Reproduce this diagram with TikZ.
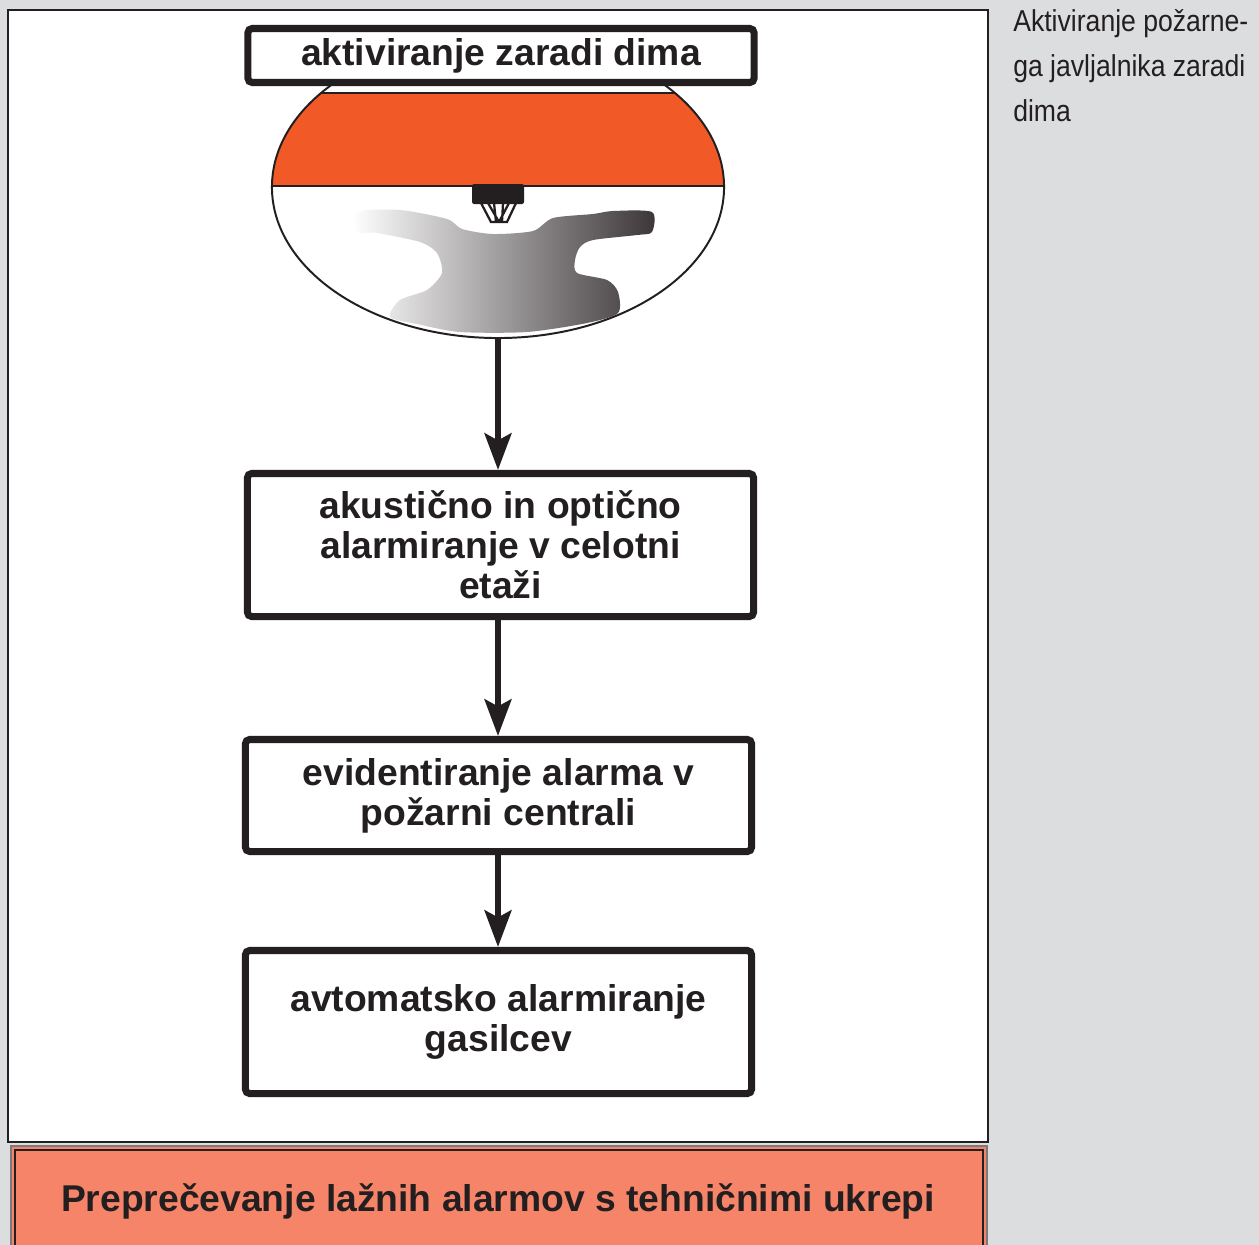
\documentclass[tikz,border=0pt]{standalone}
\usepackage{fontspec}
\setmainfont{Liberation Sans}
\newfontfamily\condfont[FakeStretch=0.88]{Liberation Sans}
\usetikzlibrary{arrows.meta,shapes.geometric}
\definecolor{ink}{HTML}{231F20}
\definecolor{pagegray}{HTML}{DCDDDE}
\definecolor{flame}{HTML}{F15A27}
\definecolor{salmon}{HTML}{F58468}
\definecolor{smoke}{HTML}{3B3537}

\begin{document}
\begin{tikzpicture}[x=0.025cm, y=-0.025cm,
  box/.style={draw=ink, line width=5pt, rounded corners=3pt, fill=white, minimum width=12.65cm,
    align=center, inner sep=0pt, text=ink, font=\fontsize{26.5}{28.3}\selectfont\bfseries},
  flow/.style={draw=ink, line width=4.5pt, -{Stealth[length=26pt,width=19pt,inset=5pt]}}]
% page and white panel
\clip (0,0) rectangle (1259,1245);
\fill[pagegray] (0,0) rectangle (1259,1245);
\draw[ink, line width=1.8pt, fill=white] (8,10) rectangle (988,1142);

% ceiling with detector and smoke
\begin{scope}
  \clip (498,187) ellipse [x radius=5.65cm, y radius=3.775cm];
  \fill[flame] (260,93) rectangle (740,186);
  \draw[ink, line width=1.2pt] (260,93) -- (740,93);
  \draw[ink, line width=1.2pt] (260,186) -- (740,186);
  \shade[left color=white, right color=smoke] plot[smooth cycle, tension=0.45] coordinates {
    (357,212) (400,210) (447,219) (462,229) (493,234) (533,231) (553,218) (593,214)
    (613,211) (652,212) (652,232) (637,235) (593,240) (580,247) (575,260) (577,273)
    (607,280) (618,292) (618,313) (587,323) (527,332) (460,332) (417,324) (390,317)
    (400,300) (427,290) (442,273) (437,253) (420,242) (377,233) (357,232)};
  \fill[ink, rounded corners=1.5pt] (472,184) rectangle (524,204);
  \draw[ink, line width=1.6pt] (481,203) -- (491,222) -- (507,222) -- (516,203)
    (488,203) -- (499,222) (494,203) -- (496,222)
    (509,203) -- (499,222) (503,203) -- (502,222);
\end{scope}
\node[ellipse, draw=ink, line width=1.4pt, inner sep=0pt, minimum width=11.3cm,
  minimum height=7.55cm] (lens) at (498,187) {};

% flow of the alarm
\node[box, minimum height=1.35cm] (trigger) at (501,55.5) {aktiviranje zaradi dima};
\node[box, minimum height=3.575cm] (sounder) at (500.5,545) {akustično in optično\\alarmiranje v celotni\\etaži};
\node[box, minimum height=2.8cm] (panel) at (498.5,795.5) {evidentiranje alarma v\\požarni centrali};
\node[box, minimum height=3.575cm] (brigade) at (498.5,1022) {avtomatsko alarmiranje\\gasilcev};

\draw[flow] (lens.south) -- (lens.south |- sounder.north);
\draw[flow] (sounder.south -| lens.south) -- (lens.south |- panel.north);
\draw[flow] (panel.south -| lens.south) -- (lens.south |- brigade.north);

% footer banner
\draw[draw=ink!60, line width=0.8pt, fill=salmon] (11,1146) rectangle (987,1260);
\draw[ink, line width=0.8pt] (15,1150) rectangle (983,1260);
\node[text=ink, font=\fontsize{26.5}{30}\selectfont\bfseries] (footer) at (498,1201)
  {Preprečevanje lažnih alarmov s tehničnimi ukrepi};

% side caption
\node[anchor=north west, align=left, inner sep=0pt, text=ink,
  font=\condfont\fontsize{21.5}{32}\selectfont] (caption) at (1013,9)
  {Aktiviranje požarne-\\ga javljalnika zaradi\\dima};
\end{tikzpicture}
\end{document}
